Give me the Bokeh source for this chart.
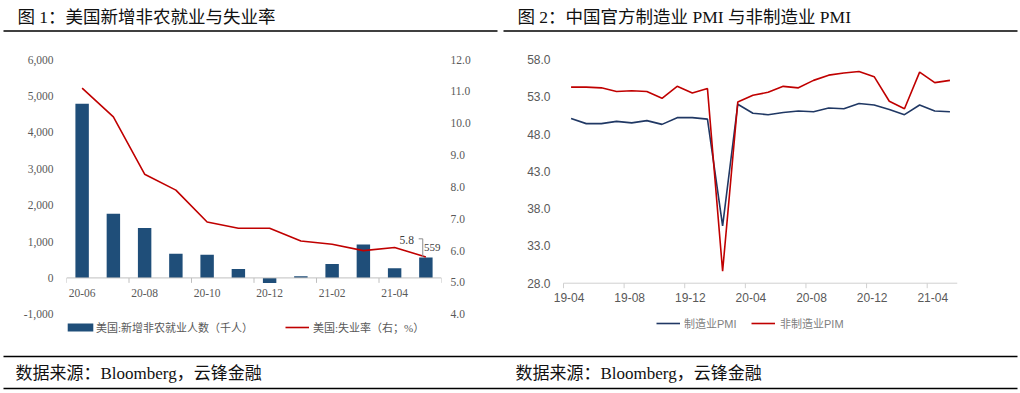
from bokeh.plotting import figure
from bokeh.layouts import column, row
from bokeh.models import (Range1d, LinearAxis, FixedTicker, NumeralTickFormatter,
                          Legend, LegendItem, ColumnDataSource, Label, Span)
from bokeh.core.properties import value
from bokeh.embed import file_html
from bokeh.resources import INLINE

# ---------------- data ----------------
nfp_months = ["20-06", "20-07", "20-08", "20-09", "20-10", "20-11",
              "20-12", "21-01", "21-02", "21-03", "21-04", "21-05"]
nfp_change = [4781, 1763, 1371, 661, 638, 245, -140, 49, 379, 916, 266, 559]
unemp_rate = [11.1, 10.2, 8.4, 7.9, 6.9, 6.7, 6.7, 6.3, 6.2, 6.0, 6.1, 5.8]
nfp_ticks = [-1000, 0, 1000, 2000, 3000, 4000, 5000, 6000]
rate_ticks = [4, 5, 6, 7, 8, 9, 10, 11, 12]

pmi_months = ["19-04", "19-05", "19-06", "19-07", "19-08", "19-09", "19-10",
              "19-11", "19-12", "20-01", "20-02", "20-03", "20-04", "20-05",
              "20-06", "20-07", "20-08", "20-09", "20-10", "20-11", "20-12",
              "21-01", "21-02", "21-03", "21-04", "21-05"]
mfg_pmi = [50.1, 49.4, 49.4, 49.7, 49.5, 49.8, 49.3, 50.2, 50.2, 50.0, 35.7,
           52.0, 50.8, 50.6, 50.9, 51.1, 51.0, 51.5, 51.4, 52.1, 51.9, 51.3,
           50.6, 51.9, 51.1, 51.0]
nonmfg_pmi = [54.3, 54.3, 54.2, 53.7, 53.8, 53.7, 52.8, 54.4, 53.5, 54.1, 29.6,
              52.3, 53.2, 53.6, 54.4, 54.2, 55.2, 55.9, 56.2, 56.4, 55.7, 52.4,
              51.4, 56.3, 54.9, 55.2]
pmi_ticks = [28, 33, 38, 43, 48, 53, 58]

title1 = "图 1：美国新增非农就业与失业率"
title2 = "图 2：中国官方制造业 PMI 与非制造业 PMI"
source_txt = "数据来源：Bloomberg，云锋金融"
leg_nfp = "美国:新增非农就业人数（千人）"
leg_rate = "美国:失业率（右；%）"
leg_mfg = "制造业PMI"
leg_nonmfg = "非制造业PIM"

SERIF = "Liberation Serif, Noto Sans CJK SC"
SANS = "Liberation Sans, Noto Sans CJK SC"
BAR_BLUE = "#1f4e79"
RED = "#c00000"
NAVY = "#203864"
AX_GRAY = "#bfbfbf"
LBL_GRAY = "#595959"

W = 1020
H = 393


def bare(p):
    p.grid.visible = False
    p.outline_line_color = None
    p.background_fill_color = None
    p.border_fill_color = None


# ---------------- title strip ----------------
TOP_H = 34
top = figure(width=W, height=TOP_H, x_range=Range1d(0, W), y_range=Range1d(TOP_H, 0),
             min_border=0, x_axis_type=None, y_axis_type=None, title=None,
             toolbar_location=None, output_backend="svg")
bare(top)
top.add_layout(Label(x=17, y=16.5, text=title1, text_font=SERIF, text_font_size="17.5px",
                     text_baseline="middle", text_color="#111111"))
top.add_layout(Label(x=517, y=16.5, text=title2, text_font=SERIF, text_font_size="17.5px",
                     text_baseline="middle", text_color="#111111"))
top.segment(x0=[3, 503], y0=[30.5, 30.5], x1=[497, 1017], y1=[30.5, 30.5],
            line_color="black", line_width=1.3)

MID_H = 314

# ---------------- left chart ----------------
# frame: top tick (6000 / 12.0) at frame top, bottom tick (-1000 / 4.0) AXIS1_PX below;
# frame extended downward so the legend sits inside it
AXIS1_PX = 257.5
F1_TOP, F1_H = 22, 288
nfp_lo = nfp_ticks[-1] - (nfp_ticks[-1] - nfp_ticks[0]) * F1_H / AXIS1_PX
rate_lo = rate_ticks[-1] - (rate_ticks[-1] - rate_ticks[0]) * F1_H / AXIS1_PX
nfp_px = (nfp_ticks[-1] - nfp_ticks[0]) / AXIS1_PX   # data units per pixel

src1 = ColumnDataSource(dict(x=list(range(len(nfp_months))), month=nfp_months,
                             nfp=nfp_change, rate=unemp_rate))
p1 = figure(width=502, height=MID_H, x_range=Range1d(-0.5, len(nfp_months) - 0.5),
            y_range=Range1d(nfp_lo, nfp_ticks[-1]), title=None, x_axis_type=None,
            min_border_left=66, min_border_right=61, min_border_top=F1_TOP,
            min_border_bottom=MID_H - F1_TOP - F1_H,
            toolbar_location=None, output_backend="svg")
bare(p1)
p1.extra_y_ranges = {"rate": Range1d(rate_lo, rate_ticks[-1])}

bars = p1.vbar(x="x", top="nfp", width=0.43, source=src1, fill_color=BAR_BLUE,
               line_color=None)
rline = p1.line(x="x", y="rate", source=src1, y_range_name="rate", line_color=RED,
                line_width=1.6)

# category x axis on the zero line
p1.add_layout(Span(location=0, dimension="width", line_color=AX_GRAY, line_width=1))
b1 = [i - 0.5 for i in range(0, len(nfp_months) + 1, 2)]
p1.segment(x0=b1, y0=[0] * len(b1), x1=b1, y1=[-5 * nfp_px] * len(b1),
           line_color=AX_GRAY, line_width=1)
lab1 = list(range(0, len(nfp_months), 2))
p1.text(x=lab1, y=[0] * len(lab1), text=[nfp_months[i] for i in lab1], y_offset=15,
        text_align="center", text_baseline="middle", text_font=value(SERIF),
        text_font_size="11.5px", text_color=LBL_GRAY)

ya = p1.yaxis[0]
ya.ticker = FixedTicker(ticks=nfp_ticks)
ya.formatter = NumeralTickFormatter(format="0,0")
ya.axis_line_color = None
ya.major_tick_line_color = None
ya.minor_tick_line_color = None
ya.major_tick_out = 0
ya.major_label_standoff = 13
ya.major_label_text_font = SERIF
ya.major_label_text_font_size = "11.5px"
ya.major_label_text_color = LBL_GRAY

ra = LinearAxis(y_range_name="rate", ticker=FixedTicker(ticks=rate_ticks),
                formatter=NumeralTickFormatter(format="0.0"))
ra.axis_line_color = None
ra.major_tick_line_color = None
ra.minor_tick_line_color = None
ra.major_tick_out = 0
ra.major_label_standoff = 9
ra.major_label_text_font = SERIF
ra.major_label_text_font_size = "11.5px"
ra.major_label_text_color = LBL_GRAY
p1.add_layout(ra, "right")

# data-label callout on the last point
last = len(nfp_months) - 1
lx, ly = last, unemp_rate[last]
p1.line(x=[lx - 0.23, lx - 0.1, lx - 0.1], y=[ly + 0.57, ly + 0.57, ly],
        y_range_name="rate", line_color="#8c8c8c", line_width=1)
p1.text(x=[lx], y=[ly], text=[f"{unemp_rate[last]:.1f}"], y_range_name="rate",
        x_offset=-12, y_offset=-17, text_align="right", text_baseline="middle",
        text_font=value(SERIF), text_font_size="11.5px", text_color="#404040")
p1.text(x=[lx], y=[ly], text=[f"{nfp_change[last]}"], y_range_name="rate",
        x_offset=-2, y_offset=-9, text_align="left", text_baseline="middle",
        text_font=value(SERIF), text_font_size="11px", text_color="#404040")


def mk_legend(item_label, rend, loc, gw, gh, standoff, font, color):
    return Legend(items=[LegendItem(label=value(item_label), renderers=[rend])],
                  location=loc, orientation="horizontal", glyph_width=gw, glyph_height=gh,
                  label_height=gh, label_standoff=standoff, padding=0, margin=0,
                  spacing=0, border_line_color=None, background_fill_alpha=0,
                  label_text_font=font, label_text_font_size="11px",
                  label_text_color=color)


p1.add_layout(mk_legend(leg_nfp, bars, (-2, 9), 32, 10, 0, SERIF, LBL_GRAY))
p1.add_layout(mk_legend(leg_rate, rline, (219, 9), 24, 10, 4, SERIF, LBL_GRAY))

# ---------------- right chart ----------------
AXIS2_PX = 223.7
F2_TOP, F2_H = 25, 285
F2_W = 394            # width covered by the 26 categories
F2_PAD = 13           # extra frame room on the left for the first tick label
pmi_lo = pmi_ticks[-1] - (pmi_ticks[-1] - pmi_ticks[0]) * F2_H / AXIS2_PX
pmi_px = (pmi_ticks[-1] - pmi_ticks[0]) / AXIS2_PX
x2_lo = -0.5 - F2_PAD * len(pmi_months) / F2_W

src2 = ColumnDataSource(dict(x=list(range(len(pmi_months))), month=pmi_months,
                             mfg=mfg_pmi, nonmfg=nonmfg_pmi))
p2 = figure(width=W - 502, height=MID_H, x_range=Range1d(x2_lo, len(pmi_months) - 0.5),
            y_range=Range1d(pmi_lo, pmi_ticks[-1]), title=None, x_axis_type=None,
            min_border_left=61 - F2_PAD, min_border_right=63, min_border_top=F2_TOP,
            min_border_bottom=MID_H - F2_TOP - F2_H,
            toolbar_location=None, output_backend="svg")
bare(p2)
l_mfg = p2.line(x="x", y="mfg", source=src2, line_color=NAVY, line_width=1.6)
l_non = p2.line(x="x", y="nonmfg", source=src2, line_color=RED, line_width=1.6)

p2.segment(x0=[-0.5], y0=[pmi_ticks[0]], x1=[len(pmi_months) - 0.5], y1=[pmi_ticks[0]],
           line_color="#d0d0d0", line_width=1)
b2 = [i - 0.5 for i in range(0, len(pmi_months), 4)]
p2.segment(x0=b2, y0=[pmi_ticks[0]] * len(b2), x1=b2,
           y1=[pmi_ticks[0] - 5 * pmi_px] * len(b2), line_color="#d0d0d0", line_width=1)
lab2 = list(range(0, len(pmi_months), 4))
p2.text(x=lab2, y=[pmi_ticks[0]] * len(lab2), text=[pmi_months[i] for i in lab2],
        x_offset=-2, y_offset=14, text_align="center", text_baseline="middle",
        text_font=value(SANS), text_font_size="12px", text_color=LBL_GRAY)

yb = p2.yaxis[0]
yb.ticker = FixedTicker(ticks=pmi_ticks)
yb.formatter = NumeralTickFormatter(format="0.0")
yb.axis_line_color = None
yb.major_tick_line_color = None
yb.minor_tick_line_color = None
yb.major_tick_out = 0
yb.major_label_standoff = 0
yb.major_label_text_font = SANS
yb.major_label_text_font_size = "12px"
yb.major_label_text_color = LBL_GRAY

p2.add_layout(mk_legend(leg_mfg, l_mfg, (93 + F2_PAD, 13), 24, 10, 4, SANS, "#7f7f7f"))
p2.add_layout(mk_legend(leg_nonmfg, l_non, (188 + F2_PAD, 13), 24, 10, 5, SANS, "#7f7f7f"))

# ---------------- source strip ----------------
BOT_H = H - TOP_H - MID_H
bot = figure(width=W, height=BOT_H, x_range=Range1d(0, W),
             y_range=Range1d(H, TOP_H + MID_H),
             min_border=0, x_axis_type=None, y_axis_type=None, title=None,
             toolbar_location=None, output_backend="svg")
bare(bot)
bot.segment(x0=[3, 3], y0=[356, 388], x1=[1017, 1017], y1=[356, 388],
            line_color="black", line_width=1.3)
bot.add_layout(Label(x=15, y=373, text=source_txt, text_font=SERIF,
                     text_font_size="17px", text_baseline="middle", text_color="#111111"))
bot.add_layout(Label(x=515, y=373, text=source_txt, text_font=SERIF,
                     text_font_size="17px", text_baseline="middle", text_color="#111111"))

layout = column(top, row(p1, p2), bot)
open("out.html", "w").write(file_html(layout, INLINE))
